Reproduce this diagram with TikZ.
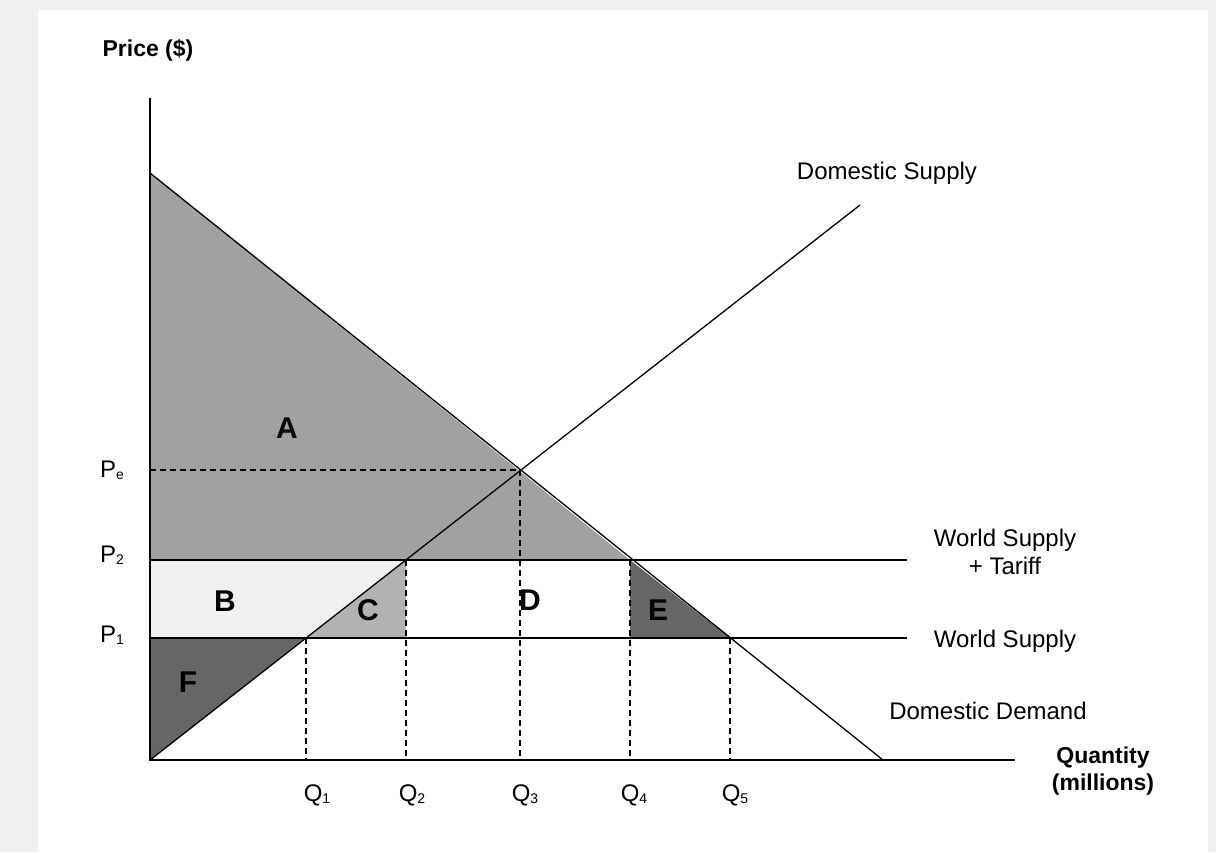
\documentclass[tikz,border=0pt]{standalone}
\usepackage{fontspec}
\setmainfont{Liberation Sans}
\begin{document}
\begin{tikzpicture}[x=1pt,y=-1pt,
  lbl/.style={font=\fontsize{24}{28}\selectfont},
  area/.style={font=\bfseries\fontsize{30}{32}\selectfont},
  bold/.style={font=\bfseries\fontsize{23}{27}\selectfont, align=center},
  dline/.style={dash pattern=on 6pt off 4pt, line width=1.3pt}]
\fill[gray!12] (0,0) rectangle (1216,852);
\fill[white] (38,10) rectangle (1208,852);
\useasboundingbox (0,0) rectangle (1216,852);
% areas
\fill[black!37] (150,173) -- (630,560) -- (150,560) -- cycle;
\fill[gray!12] (150,560) -- (406,560) -- (306,638) -- (150,638) -- cycle;
\fill[black!30] (306,638) -- (406,560) -- (406,638) -- cycle;
\fill[black!60] (150,638) -- (306,638) -- (150,760) -- cycle;
\fill[black!60] (630,560) -- (630,638) -- (730,638) -- cycle;
% axes
\coordinate (O) at (150,760);
\coordinate (Ytop) at (150,98);
\coordinate (Xend) at (1015,760);
\draw[line width=1.3pt] (Ytop) -- (O) -- (Xend);
% curves
\coordinate (D0) at (150,173); \coordinate (D1) at (883,760);
\coordinate (S1) at (860,205);
\draw[line width=1.3pt] (D0) -- (D1);
\draw[line width=1.3pt] (O) -- (S1);
\coordinate (P2a) at (150,560); \coordinate (P2b) at (907,560);
\coordinate (P1a) at (150,638); \coordinate (P1b) at (907,638);
\draw[line width=2.2pt] (P2a) -- (P2b);
\draw[line width=1.3pt] (P1a) -- (P1b);
% dashed
\coordinate (Pe) at (520,470);
\draw[dline] (150,470) -- (Pe) -- (520,760);
\draw[dline] (306,638) -- (306,760);
\draw[dline] (406,560) -- (406,760);
\draw[dline] (630,560) -- (630,760);
\draw[dline] (730,638) -- (730,760);
% labels
\node[bold] (price) at (148,50) {Price (\$)};
\node[lbl] (pe) at (112,470) {P\raisebox{-2pt}{\fontsize{14}{14}\selectfont e}};
\node[lbl] (p2) at (112,555) {P\raisebox{-2pt}{\fontsize{14}{14}\selectfont 2}};
\node[lbl] (p1) at (112,635) {P\raisebox{-2pt}{\fontsize{14}{14}\selectfont 1}};
\foreach \x/\n in {317/1,412/2,525/3,634/4,735/5}
  \node[lbl] (q\n) at (\x,795) {Q\raisebox{-2pt}{\fontsize{14}{14}\selectfont \n}};
\node[lbl] (ds) at (887,173) {Domestic Supply};
\node[lbl, align=center] (wst) at (1005,552) {World Supply\\+ Tariff};
\node[lbl] (ws) at (1005,641) {World Supply};
\node[lbl] (dd) at (988,711) {Domestic Demand};
\node[bold] (qty) at (1103,771) {Quantity\\(millions)};
\node[area] (A) at (287,428) {A};
\node[area] (B) at (225,601) {B};
\node[area] (C) at (368,610) {C};
\node[area] (D) at (530,600) {D};
\node[area] (E) at (658,610) {E};
\node[area] (F) at (188,682) {F};
\end{tikzpicture}
\end{document}
